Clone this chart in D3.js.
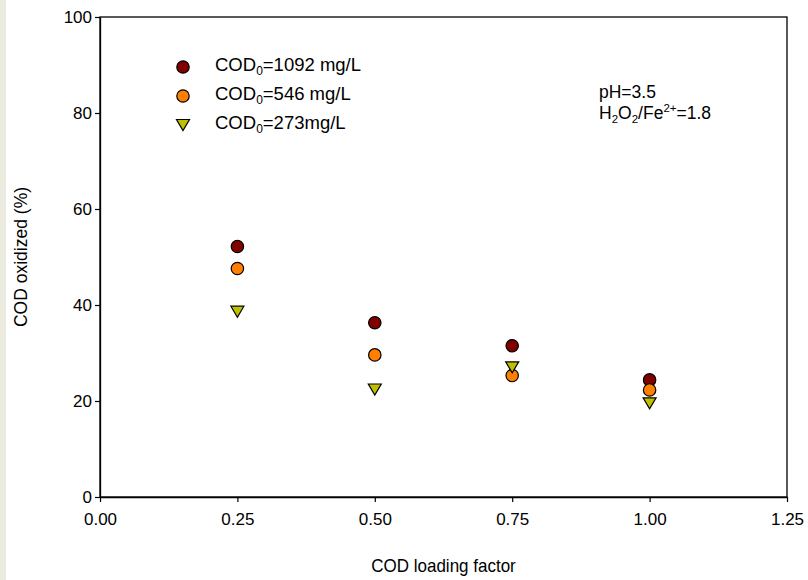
<!DOCTYPE html>
<html><head><meta charset="utf-8">
<script src="https://cdn.jsdelivr.net/npm/d3@7"></script>
<style>body{margin:0;background:#fff}svg{display:block;font-family:Arial,"Liberation Sans",sans-serif}</style>
</head><body>
<script>
const loadingFactor = [0.25, 0.5, 0.75, 1.0];
const cod1092 = [52.2, 36.3, 31.5, 24.4];
const cod546 = [47.6, 29.6, 25.3, 22.3];
const cod273 = [38.6, 22.4, 27.0, 19.5];
const seriesNames = ["1092 mg/L", "546 mg/L", "273mg/L"];
const xTicks = [0, 0.25, 0.5, 0.75, 1.0, 1.25];
const yTicks = [0, 20, 40, 60, 80, 100];

const W = 808, H = 580;
const svg = d3.select("body").append("svg").attr("width", W).attr("height", H);
svg.append("rect").attr("x",0).attr("y",0).attr("width",6).attr("height",H).attr("fill","#ebebe0");

const m = {l:100, r:787, t:17, b:497};
const x = d3.scaleLinear().domain([0,1.25]).range([m.l, m.r]);
const y = d3.scaleLinear().domain([0,100]).range([m.b, m.t]);

svg.append("rect").attr("x",m.l).attr("y",m.t).attr("width",m.r-m.l).attr("height",m.b-m.t)
  .attr("fill","none").attr("stroke","#000").attr("stroke-width",1.3);

const xa = svg.append("g").attr("transform",`translate(0,${m.b})`)
  .call(d3.axisBottom(x).tickValues(xTicks).tickFormat(d3.format(".2f")).tickSize(5).tickSizeOuter(0));
const ya = svg.append("g").attr("transform",`translate(${m.l},0)`)
  .call(d3.axisLeft(y).tickValues(yTicks).tickFormat(d3.format("d")).tickSize(5).tickSizeOuter(0));
[xa, ya].forEach(a => {
  a.select(".domain").attr("stroke","#000").attr("stroke-width",1.3);
  a.selectAll(".tick line").attr("stroke","#000").attr("stroke-width",1.2);
  a.selectAll("text").attr("fill","#000").attr("font-size",17).attr("font-family","Arial, 'Liberation Sans', sans-serif");
});
xa.selectAll("text").attr("dy","1.2em");
ya.selectAll("text").attr("x",-8);

svg.append("text").attr("transform",`translate(${(m.l+m.r)/2},572) scale(1,1.08)`).attr("text-anchor","middle").attr("font-size",17).text("COD loading factor");
svg.append("text").attr("transform",`translate(27,${(m.t+m.b)/2}) rotate(-90)`).attr("text-anchor","middle").attr("font-size",17.5).text("COD oxidized (%)");

const colors = ["#800000", "#ff8000", "#c0c000"];
const tri = (cx, cy) => `M${cx-6.5},${cy-5.5}L${cx+6.5},${cy-5.5}L${cx},${cy+5.5}Z`;

function circles(data, color) {
  svg.append("g").selectAll("circle").data(data).join("circle")
    .attr("cx",(d,i)=>x(loadingFactor[i])).attr("cy",d=>y(d)).attr("r",6.2)
    .attr("fill",color).attr("stroke","#000").attr("stroke-width",1.2);
}
circles(cod1092, colors[0]);
circles(cod546, colors[1]);
svg.append("g").selectAll("path").data(cod273).join("path")
  .attr("d",(d,i)=>tri(x(loadingFactor[i]), y(d)))
  .attr("fill",colors[2]).attr("stroke","#000").attr("stroke-width",1.2);

const legY = [67, 96, 125];
const lg = svg.append("g");
lg.append("circle").attr("cx",183).attr("cy",legY[0]).attr("r",6.2).attr("fill",colors[0]).attr("stroke","#000").attr("stroke-width",1.2);
lg.append("circle").attr("cx",183).attr("cy",legY[1]).attr("r",6.2).attr("fill",colors[1]).attr("stroke","#000").attr("stroke-width",1.2);
lg.append("path").attr("d",tri(183,legY[2])).attr("fill",colors[2]).attr("stroke","#000").attr("stroke-width",1.2);
seriesNames.forEach((n,i)=>{
  const t = lg.append("text").attr("x",215).attr("y",legY[i]+4).attr("font-size",18.5);
  t.append("tspan").text("COD");
  t.append("tspan").attr("font-size",12).attr("dy",4).text("0");
  t.append("tspan").attr("dy",-4).text("=" + n);
});

svg.append("text").attr("x",599).attr("y",98).attr("font-size",17.5).text("pH=3.5");
const a2 = svg.append("text").attr("x",599).attr("y",119).attr("font-size",17.5);
a2.append("tspan").text("H");
a2.append("tspan").attr("font-size",11.5).attr("dy",4).text("2");
a2.append("tspan").attr("dy",-4).text("O");
a2.append("tspan").attr("font-size",11.5).attr("dy",4).text("2");
a2.append("tspan").attr("dy",-4).text("/Fe");
a2.append("tspan").attr("font-size",11.5).attr("dy",-7).text("2+");
a2.append("tspan").attr("dy",7).text("=1.8");
</script>
</body></html>
